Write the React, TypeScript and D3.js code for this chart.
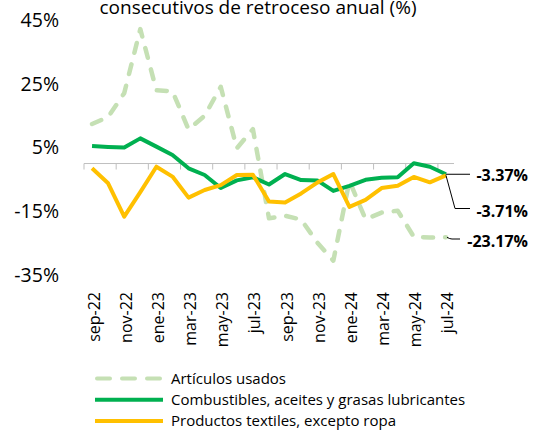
import React from "react";
import * as d3 from "d3";

const months = [
  "sep-22","oct-22","nov-22","dic-22","ene-23","feb-23","mar-23","abr-23","may-23","jun-23","jul-23","ago-23",
  "sep-23","oct-23","nov-23","dic-23","ene-24","feb-24","mar-24","abr-24","may-24","jun-24","jul-24",
];
const usados = [12.4, 14.6, 22.1, 42.2, 23.0, 22.7, 10.7, 15.0, 24.1, 4.8, 10.8, -17.2, -16.4, -17.6, -24.8, -30.5, -5.5, -17.5, -15.4, -14.8, -23.0, -23.2, -23.17];
const combustibles = [5.5, 5.2, 5.0, 7.9, 5.3, 2.7, -1.5, -3.6, -7.7, -5.3, -4.3, -6.6, -3.3, -5.2, -5.3, -8.6, -7.0, -5.1, -4.5, -4.3, 0.1, -1.0, -3.37];
const textiles = [-1.5, -6.2, -16.7, -9.0, -1.0, -4.1, -10.7, -8.3, -6.8, -3.6, -3.5, -11.9, -12.2, -9.4, -6.0, -3.3, -13.6, -11.4, -7.7, -7.0, -4.2, -5.9, -3.71];
const yTicks = [45, 25, 5, -15, -35];
const seriesNames = ["Artículos usados", "Combustibles, aceites y grasas lubricantes", "Productos textiles, excepto ropa"];
const endLabels = ["-3.37%", "-3.71%", "-23.17%"];
const title = "consecutivos de retroceso anual (%)";

const COLORS = ["#c5e0b4", "#00b050", "#ffc000"];
const FONT = "'Open Sans', 'Noto Sans', sans-serif";

export default function App() {
  const W = 543, H = 434;
  const x = d3.scaleBand<string>().domain(months).range([84, 454]).paddingInner(0).paddingOuter(0);
  const y = d3.scaleLinear().domain([-35, 45]).range([275, 20.2]);
  const cx = (i: number) => (x(months[i]) as number) + x.bandwidth() / 2;
  const line = d3.line<number>().x((_, i) => cx(i)).y((d) => y(d));

  const last = months.length - 1;
  const ex = cx(last);
  const tickIdx = d3.range(0, months.length + 1, 2);

  return (
    <svg width={W} height={H} style={{ position: "absolute", left: 0, top: 0, fontFamily: FONT }}>
      <rect width={W} height={H} fill="#fff" />
      <text x={258} y={14} textAnchor="middle" fontSize={19} fill="#000">{title}</text>

      {yTicks.map((t) => (
        <text key={t} x={59} y={y(t)} dy="0.35em" textAnchor="end" fontSize={19.5} fill="#000">{t}%</text>
      ))}

      <line x1={84} x2={454} y1={y(0)} y2={y(0)} stroke="#bfbfbf" strokeWidth={1} />
      {tickIdx.map((k) => {
        const tx = 84 + k * x.bandwidth();
        return <line key={k} x1={tx} x2={tx} y1={y(0)} y2={y(0) + 6} stroke="#bfbfbf" strokeWidth={1} />;
      })}

      {months.map((m, i) =>
        i % 2 === 0 ? (
          <text key={m} transform={`translate(${cx(i) + 7.5},292) rotate(-90)`} textAnchor="end" fontSize={16} fill="#000">{m}</text>
        ) : null
      )}

      <path d={line(usados) || ""} fill="none" stroke={COLORS[0]} strokeWidth={4.5} strokeDasharray="10,12" strokeLinecap="round" strokeLinejoin="round" />
      <path d={line(combustibles) || ""} fill="none" stroke={COLORS[1]} strokeWidth={4} strokeLinejoin="round" />
      <path d={line(textiles) || ""} fill="none" stroke={COLORS[2]} strokeWidth={4} strokeLinejoin="round" />

      {/* leader lines */}
      <path d={`M${ex},${y(combustibles[last])} H470`} fill="none" stroke="#000" strokeWidth={1} />
      <path d={`M${ex},${y(textiles[last])} L455,208.5 H470`} fill="none" stroke="#000" strokeWidth={1} />
      <path d={`M${ex + 1},${y(usados[last])} Q450,239 452,239 H460`} fill="none" stroke="#000" strokeWidth={1} />
      <text x={528} y={175.5} dy="0.35em" textAnchor="end" fontSize={16} fontWeight="bold" fill="#000">{endLabels[0]}</text>
      <text x={528} y={211.5} dy="0.35em" textAnchor="end" fontSize={16} fontWeight="bold" fill="#000">{endLabels[1]}</text>
      <text x={528} y={241} dy="0.35em" textAnchor="end" fontSize={16} fontWeight="bold" fill="#000">{endLabels[2]}</text>

      {/* legend */}
      {seriesNames.map((n, i) => {
        const ly = 378.5 + i * 21.3;
        return (
          <g key={n}>
            <line x1={i === 0 ? 97 : 95} x2={i === 0 ? 161 : 163} y1={ly} y2={ly} stroke={COLORS[i]} strokeWidth={4}
              strokeDasharray={i === 0 ? "13,12" : undefined} strokeLinecap={i === 0 ? "round" : "butt"} />
            <text x={171} y={ly} dy="0.35em" fontSize={15} fill="#000">{n}</text>
          </g>
        );
      })}
    </svg>
  );
}
